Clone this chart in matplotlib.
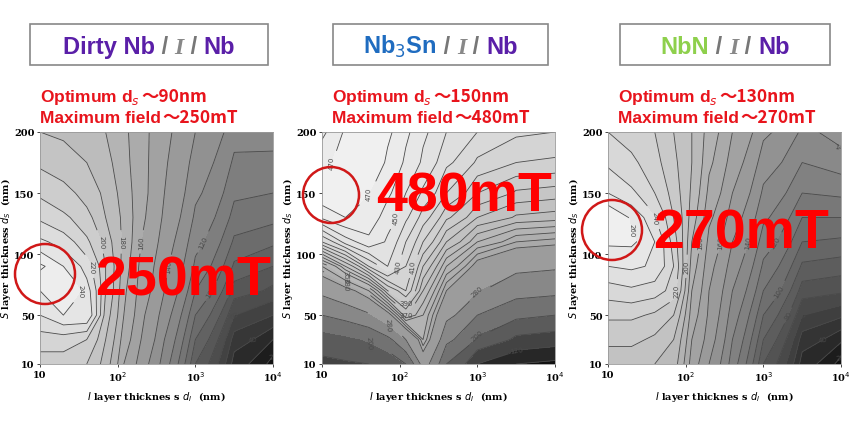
import matplotlib
matplotlib.use("Agg")
import matplotlib.pyplot as plt
import numpy as np
from matplotlib.patches import Ellipse, Rectangle

dI = [10, 20, 40, 70, 120, 200, 400, 1000, 3162, 10000]
dS = [10, 30, 50, 70, 90, 110, 130, 150, 175, 200]

# rows: dS, cols: dI  (maximum field in mT)
field_dirty = [
    [205, 205, 200, 185, 160, 145, 125, 80, 35, 15],
    [215, 215, 210, 190, 165, 150, 130, 90, 45, 30],
    [230, 240, 240, 195, 170, 152, 135, 100, 60, 50],
    [240, 250, 235, 200, 172, 155, 140, 110, 75, 67],
    [252, 240, 225, 200, 175, 157, 142, 118, 88, 80],
    [232, 225, 212, 195, 177, 160, 145, 123, 98, 92],
    [218, 212, 203, 190, 177, 162, 148, 128, 106, 103],
    [208, 203, 196, 187, 175, 163, 150, 132, 112, 110],
    [198, 195, 190, 183, 173, 163, 151, 136, 118, 117],
    [190, 188, 185, 180, 172, 163, 152, 140, 124, 125],
]
field_nb3sn = [
    [150, 155, 160, 170, 200, 300, 200, 120, 80, 70],
    [180, 190, 205, 230, 280, 340, 250, 190, 150, 140],
    [240, 255, 275, 310, 370, 350, 290, 240, 210, 200],
    [290, 310, 340, 390, 410, 370, 320, 280, 255, 250],
    [340, 380, 420, 440, 420, 390, 350, 310, 290, 285],
    [420, 445, 458, 448, 430, 410, 380, 350, 330, 325],
    [462, 470, 465, 455, 442, 425, 402, 380, 368, 365],
    [478, 476, 470, 462, 450, 438, 420, 400, 388, 385],
    [466, 478, 478, 468, 458, 448, 432, 418, 410, 408],
    [458, 472, 480, 472, 462, 452, 440, 430, 422, 420],
]
field_nbn = [
    [205, 205, 200, 195, 165, 150, 125, 80, 35, 15],
    [212, 212, 208, 200, 170, 155, 130, 90, 45, 32],
    [222, 222, 218, 210, 175, 158, 135, 100, 60, 52],
    [235, 238, 235, 225, 180, 160, 140, 110, 75, 72],
    [250, 252, 248, 230, 185, 163, 145, 118, 88, 85],
    [262, 262, 250, 225, 190, 167, 150, 125, 100, 98],
    [270, 258, 240, 220, 195, 172, 155, 132, 110, 110],
    [250, 242, 230, 215, 198, 177, 160, 138, 120, 122],
    [238, 232, 223, 212, 200, 182, 165, 145, 130, 135],
    [230, 226, 220, 210, 200, 185, 170, 152, 138, 145],
]
levels_dirty = list(range(20, 260, 10))
levels_nb3sn = list(range(40, 321, 40)) + list(range(330, 481, 10))
levels_nbn = list(range(20, 280, 10))

title_main = ["Dirty Nb", "Nb$_3$Sn", "NbN"]
title_colors = ["#5a1fa8", "#1f6cc0", "#8ed04c"]
opt_ds = ["90nm", "150nm", "130nm"]
max_field = ["250mT", "480mT", "270mT"]

W, H = 850, 435
fig = plt.figure(figsize=(8.5, 4.35), dpi=100)
fig.patch.set_facecolor("white")
renderer = fig.canvas.get_renderer()

def fx(x): return x / W
def fy(y): return 1 - y / H

def after(t, gap=0):
    bb = t.get_window_extent(renderer)
    return fx(bb.x1 + gap)

panels = [
    dict(left=40, data=field_dirty, lev=levels_dirty, box=(30, 268), circ=(45, 275, 30), big=(95, 282)),
    dict(left=322, data=field_nb3sn, lev=levels_nb3sn, box=(333, 548), circ=(331, 196, 28), big=(376, 198)),
    dict(left=608, data=field_nbn, lev=levels_nbn, box=(620, 830), circ=(612, 231, 30), big=(653, 235)),
]
serif = "DejaVu Serif"
red = "#e8141c"
for i, p in enumerate(panels):
    ax = fig.add_axes([fx(p["left"]), fy(365), fx(233), 232 / H])
    Z = np.array(p["data"], dtype=float)
    X, Y = np.meshgrid(dI, dS)
    bounds = [0] + p["lev"] + [1000]
    vmin, vmax = Z.min(), Z.max()
    greys = []
    for k in range(len(bounds) - 1):
        mid = np.clip((min(bounds[k + 1], vmax) + max(bounds[k], vmin)) / 2, vmin, vmax)
        f = (mid - vmin) / (vmax - vmin)
        greys.append(str(round(0.04 + 0.91 * f ** 0.8, 3)))
    ax.contourf(X, Y, Z, levels=bounds, colors=greys)
    cs = ax.contour(X, Y, Z, levels=p["lev"], colors="#4a4a4a", linewidths=0.6)
    ax.clabel(cs, cs.levels[::2], fontsize=5, fmt="%d", inline=True)
    ax.set_xscale("log")
    ax.set_xlim(10, 10000)
    ax.set_ylim(10, 200)
    ax.set_yticks([10, 50, 100, 150, 200])
    ax.set_xticks([10, 100, 1000, 10000])
    ax.set_xticklabels(["10", "10$^2$", "10$^3$", "10$^4$"])
    ax.minorticks_off()
    for lab in ax.get_xticklabels() + ax.get_yticklabels():
        lab.set_fontfamily(serif); lab.set_fontsize(7); lab.set_fontweight("bold")
    ax.tick_params(length=2, width=0.5, pad=2)
    for s in ax.spines.values():
        s.set_color("#999999"); s.set_linewidth(0.6)
    ax.set_ylabel(r"$\mathit{S}$ layer thickness $d_S$  (nm)", fontsize=7, family=serif, fontweight="bold", labelpad=1)
    ax.set_xlabel(r"$\mathit{I}$ layer thicknes s $d_I$  (nm)", fontsize=7, family=serif, fontweight="bold", labelpad=4)

    x0, x1 = p["box"]
    fig.patches.append(Rectangle((fx(x0), fy(66)), fx(x1 - x0), 41 / H, transform=fig.transFigure,
                                 fill=False, edgecolor="#888888", linewidth=1.2))
    kw = dict(fontsize=17, fontweight="bold", family="Liberation Sans", va="baseline")
    base = fy(54)
    t = fig.text(0, base, title_main[i], color=title_colors[i], **kw)
    t2 = fig.text(after(t), base, " / ", color="#777777", **kw)
    t3 = fig.text(after(t2), base, "I", color="#888888", fontsize=17, fontweight="bold",
                  style="italic", family="Liberation Serif", va="baseline")
    t4 = fig.text(after(t3), base, " / ", color="#777777", **kw)
    t5 = fig.text(after(t4), base, "Nb", color="#5a1fa8", **kw)
    total = t5.get_window_extent(renderer).x1 - t.get_window_extent(renderer).x0
    shift = fx((x0 + x1) / 2 - total / 2)
    for tt in (t, t2, t3, t4, t5):
        px, py = tt.get_position()
        tt.set_position((px + shift, py))

    tx = p["left"] + (0 if i == 0 else 10)
    rk = dict(color=red, fontsize=12.5, fontweight="bold", va="baseline")
    a = fig.text(fx(tx), fy(102), "Optimum d$_s$", family="Liberation Sans", **rk)
    fig.text(after(a, 1), fy(102), "～" + opt_ds[i], family=["Noto Sans CJK JP", "Liberation Sans"], **rk)
    b = fig.text(fx(tx), fy(123), "Maximum field", family="Liberation Sans", **rk)
    fig.text(after(b, 1), fy(123), "～" + max_field[i], family=["Noto Sans CJK JP", "Liberation Sans"], **rk)

    bx, by = p["big"]
    fig.text(fx(bx), fy(by), max_field[i], color="#ff0000", fontsize=40, fontweight="bold",
             family="Liberation Sans", va="center", ha="left")
    cx, cy, r = p["circ"]
    fig.patches.append(Ellipse((fx(cx), fy(cy)), 2 * r / W, 2 * r / H, transform=fig.transFigure,
                               fill=False, edgecolor="#d01818", linewidth=1.8))

fig.savefig("out.png", dpi=100)
